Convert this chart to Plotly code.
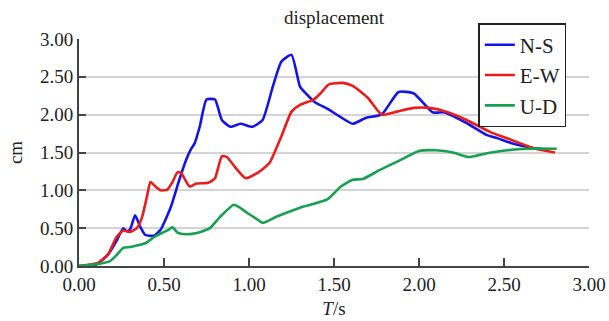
import plotly.graph_objects as go

# Displacement histories (cm) of the three components versus period T (s)
ns_t = [0.00, 0.10, 0.17, 0.22, 0.26, 0.28, 0.30, 0.33, 0.36, 0.39, 0.44, 0.48, 0.54, 0.59, 0.63,
        0.66, 0.68, 0.71, 0.75, 0.80, 0.84, 0.89, 0.95, 1.02, 1.08, 1.14, 1.19, 1.25, 1.30, 1.33,
        1.39, 1.46, 1.53, 1.61, 1.69, 1.78, 1.88, 1.97, 2.08, 2.15, 2.28, 2.40, 2.46, 2.55, 2.67, 2.72]
ns_v = [0.00, 0.02, 0.15, 0.33, 0.50, 0.46, 0.48, 0.67, 0.52, 0.41, 0.40, 0.48, 0.78, 1.14, 1.40,
        1.55, 1.62, 1.84, 2.20, 2.20, 1.93, 1.84, 1.88, 1.84, 1.93, 2.37, 2.70, 2.79, 2.37, 2.29,
        2.16, 2.08, 1.98, 1.88, 1.96, 2.00, 2.30, 2.28, 2.03, 2.03, 1.89, 1.73, 1.69, 1.62, 1.56, 1.55]

ew_t = [0.00, 0.11, 0.17, 0.22, 0.26, 0.30, 0.34, 0.37, 0.40, 0.42, 0.45, 0.48, 0.52, 0.55, 0.58,
        0.60, 0.65, 0.69, 0.76, 0.80, 0.84, 0.87, 0.92, 0.98, 1.05, 1.12, 1.15, 1.19, 1.25, 1.30,
        1.38, 1.42, 1.47, 1.55, 1.61, 1.70, 1.78, 1.87, 1.97, 2.06, 2.16, 2.28, 2.42, 2.54, 2.67, 2.80]
ew_v = [0.00, 0.04, 0.15, 0.38, 0.47, 0.45, 0.50, 0.64, 0.92, 1.11, 1.05, 1.00, 1.01, 1.11, 1.24,
        1.23, 1.05, 1.09, 1.10, 1.16, 1.45, 1.44, 1.30, 1.16, 1.23, 1.36, 1.50, 1.71, 2.04, 2.13,
        2.20, 2.28, 2.40, 2.42, 2.38, 2.22, 2.00, 2.04, 2.09, 2.09, 2.04, 1.93, 1.77, 1.67, 1.56, 1.50]

ud_t = [0.00, 0.12, 0.18, 0.22, 0.26, 0.30, 0.34, 0.39, 0.44, 0.49, 0.52, 0.55, 0.58, 0.63, 0.70,
        0.77, 0.83, 0.91, 0.94, 0.99, 1.04, 1.08, 1.16, 1.30, 1.46, 1.54, 1.61, 1.67, 1.77, 1.89,
        2.00, 2.10, 2.20, 2.29, 2.40, 2.52, 2.64, 2.81]
ud_v = [0.00, 0.03, 0.06, 0.14, 0.24, 0.25, 0.27, 0.30, 0.38, 0.44, 0.47, 0.51, 0.44, 0.42, 0.44,
        0.50, 0.65, 0.81, 0.78, 0.70, 0.63, 0.57, 0.65, 0.77, 0.88, 1.05, 1.14, 1.15, 1.27, 1.40,
        1.52, 1.53, 1.50, 1.44, 1.49, 1.53, 1.55, 1.55]

x_ticks = [0.0, 0.5, 1.0, 1.5, 2.0, 2.5, 3.0]
y_ticks = [0.0, 0.5, 1.0, 1.5, 2.0, 2.5, 3.0]
tick_text = ["0.00", "0.50", "1.00", "1.50", "2.00", "2.50", "3.00"]

serif = "'Liberation Serif', 'Times New Roman', 'DejaVu Serif', serif"
ink = "#222222"

fig = go.Figure()
for name, t, v, color in [("N-S", ns_t, ns_v, "#1414e6"),
                          ("E-W", ew_t, ew_v, "#ec1c1c"),
                          ("U-D", ud_t, ud_v, "#17a050")]:
    fig.add_trace(go.Scatter(x=t, y=v, mode="lines", name=name,
                             line=dict(color=color, width=2.6, shape="spline", smoothing=0.5)))

fig.update_layout(
    width=609, height=321,
    margin=dict(l=79, r=20, t=39, b=55),
    paper_bgcolor="white", plot_bgcolor="white",
    font=dict(family=serif, size=19, color=ink),
    title=dict(text="displacement", x=0.5, xanchor="center", xref="paper",
               y=0.945, yanchor="middle", font=dict(family=serif, size=19, color=ink)),
    showlegend=True,
    legend=dict(x=0.783, y=1.07, xanchor="left", yanchor="top",
                bgcolor="white", bordercolor=ink, borderwidth=1.5,
                font=dict(family=serif, size=21, color=ink),
                tracegroupgap=0, itemwidth=30),
    xaxis=dict(range=[0, 3], tickvals=x_ticks, ticktext=tick_text, automargin=False,
               showgrid=False, zeroline=False, showline=True, linecolor="#444", linewidth=2,
               ticks="inside", ticklen=8, tickwidth=1.5, tickcolor="#444",
               tickfont=dict(family=serif, size=19, color=ink),
               title=dict(text="<i>T</i>/s", standoff=8, font=dict(family=serif, size=19, color=ink))),
    yaxis=dict(range=[0, 3], tickvals=y_ticks, ticktext=tick_text, automargin=False,
               showgrid=True, gridcolor="#d4d4d4", gridwidth=1.5,
               zeroline=False, showline=True, linecolor="#444", linewidth=2,
               ticks="inside", ticklen=7, tickwidth=1.5, tickcolor="#444",
               tickfont=dict(family=serif, size=19, color=ink),
               title=dict(text="cm", standoff=12, font=dict(family=serif, size=19, color=ink))),
)

fig.write_html("out.html")
